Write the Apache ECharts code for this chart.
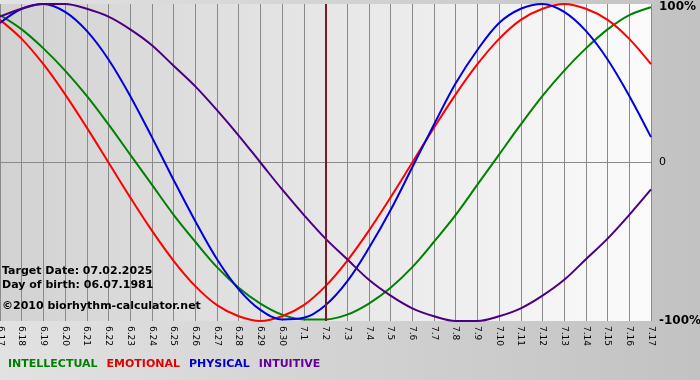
<!DOCTYPE html>
<html><head><meta charset="utf-8">
<script src="https://cdn.jsdelivr.net/npm/echarts@6/dist/echarts.min.js"></script>
<style>html,body{margin:0;padding:0;}#c{width:700px;height:380px;}</style>
</head><body><div id="c"></div>
<script>
var days = ['6.17','6.18','6.19','6.20','6.21','6.22','6.23','6.24','6.25','6.26','6.27','6.28','6.29','6.30','7.1','7.2','7.3','7.4','7.5','7.6','7.7','7.8','7.9','7.10','7.11','7.12','7.13','7.14','7.15','7.16','7.17'];
var intellectual = [0.93,0.84,0.72,0.58,0.42,0.24,0.05,-0.14,-0.33,-0.50,-0.66,-0.79,-0.89,-0.96,-0.99,-0.99,-0.96,-0.89,-0.79,-0.66,-0.50,-0.33,-0.14,0.05,0.24,0.42,0.58,0.72,0.84,0.93,0.98];
var emotional = [0.90,0.78,0.62,0.43,0.22,0.00,-0.22,-0.43,-0.62,-0.78,-0.90,-0.97,-1.00,-0.97,-0.90,-0.78,-0.62,-0.43,-0.22,0.00,0.22,0.43,0.62,0.78,0.90,0.97,1.00,0.97,0.90,0.78,0.62];
var physical = [0.88,0.97,1.00,0.95,0.83,0.65,0.42,0.16,-0.11,-0.37,-0.61,-0.80,-0.93,-0.99,-0.98,-0.90,-0.75,-0.54,-0.30,-0.03,0.24,0.50,0.71,0.88,0.97,1.00,0.95,0.83,0.65,0.42,0.16];
var intuitive = [0.92,0.97,1.00,1.00,0.97,0.92,0.84,0.74,0.61,0.48,0.33,0.17,0.00,-0.17,-0.33,-0.48,-0.61,-0.74,-0.84,-0.92,-0.97,-1.00,-1.00,-0.97,-0.92,-0.84,-0.74,-0.61,-0.48,-0.33,-0.17];
var targetDay = '7.2';
var yTickLabels = {'1':'100%','0':'0','-1':'-100%'};
var infoLines = ['Target Date: 07.02.2025','Day of birth: 06.07.1981','\u00a92010 biorhythm-calculator.net'];

var F = '"DejaVu Sans", Verdana, sans-serif';
var chart = echarts.init(document.getElementById('c'), null, {renderer:'canvas'});
function ser(name, data, color, extra){
  var s = {name:name, type:'line', data:data, smooth:0.35, symbol:'none',
    lineStyle:{color:color, width:2}, itemStyle:{color:color}, animation:false, z:3};
  if (extra) for (var k in extra) s[k]=extra[k];
  return s;
}
var option = {
  backgroundColor: new echarts.graphic.LinearGradient(0,0,1,0,[{offset:0,color:'#e2e2e2'},{offset:1,color:'#c2c2c2'}]),
  animation:false,
  grid:{left:0, right:49, top:4, bottom:59, containLabel:false, outerBoundsMode:'none', show:true, borderWidth:0,
    backgroundColor: new echarts.graphic.LinearGradient(0,0,1,0,[{offset:0,color:'#d2d2d2'},{offset:1,color:'#fbfbfb'}])},
  legend:{left:-2, top:354, selectedMode:false, itemWidth:0, itemHeight:0, itemGap:4, icon:'rect',
    textStyle:{fontFamily:F, fontSize:11, fontWeight:'bold'},
    data:[{name:'INTELLECTUAL',textStyle:{color:'#008000'}},{name:'EMOTIONAL',textStyle:{color:'#e00000'}},
          {name:'PHYSICAL',textStyle:{color:'#0000cc'}},{name:'INTUITIVE',textStyle:{color:'#660099'}}]},
  xAxis:{type:'category', data:days, boundaryGap:false,
    axisLine:{show:true, lineStyle:{color:'#8a8a8a', width:1}},
    axisTick:{show:true, interval:0, length:5, lineStyle:{color:'#8a8a8a'}},
    splitLine:{show:true, interval:0, lineStyle:{color:'#8a8a8a', width:1}},
    axisLabel:{interval:0, rotate:-90, fontFamily:F, fontSize:9, color:'#000', margin:5, hideOverlap:false}},
  yAxis:{type:'value', position:'right', min:-1, max:1, interval:1,
    axisLine:{show:false}, axisTick:{show:false},
    splitLine:{show:true, lineStyle:{color:['rgba(0,0,0,0)','#8a8a8a','rgba(0,0,0,0)'], width:1}},
    axisLabel:{margin:8, fontFamily:F, color:'#000',
      formatter:function(v){var r=Math.round(v); var t=yTickLabels[String(r)]; return r===0?'{n|'+t+'}':(r===1?'{t|'+t+'}':'{b|'+t+'}');},
      rich:{b:{fontFamily:F, fontSize:12, fontWeight:'bold', color:'#000'},
            t:{fontFamily:F, fontSize:12, fontWeight:'bold', color:'#000', padding:[6,0,0,0]},
            n:{fontFamily:F, fontSize:11, color:'#000'}}}},
  graphic:[
    {type:'text', left:2, top:266, z:10, style:{text:infoLines[0], font:'bold 11px '+F, fill:'#000'}},
    {type:'text', left:2, top:280, z:10, style:{text:infoLines[1], font:'bold 11px '+F, fill:'#000'}},
    {type:'text', left:2, top:301, z:10, style:{text:infoLines[2], font:'bold 11px '+F, fill:'#000'}}
  ],
  series:[
    ser('INTELLECTUAL', intellectual, '#008000'),
    ser('EMOTIONAL', emotional, '#ff0000'),
    ser('PHYSICAL', physical, '#0000dd'),
    ser('INTUITIVE', intuitive, '#4b0082', {markLine:{silent:true, symbol:'none', label:{show:false},
      lineStyle:{color:'#7a1a24', width:2, type:'solid'}, data:[{xAxis:targetDay}]}})
  ]
};
chart.setOption(option);
</script></body></html>
